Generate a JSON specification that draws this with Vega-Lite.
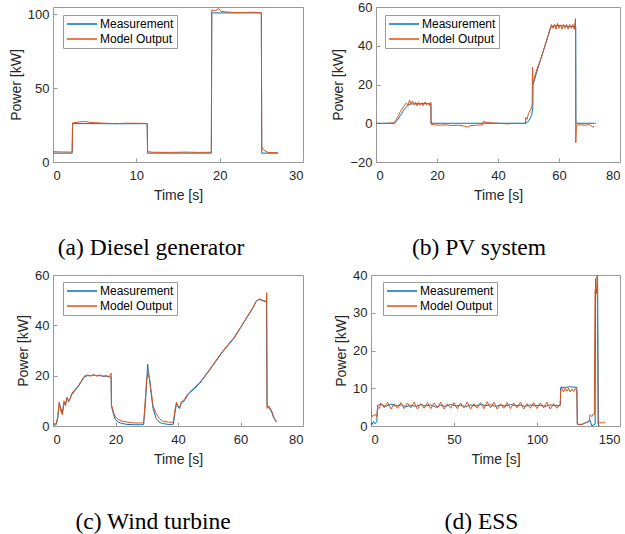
{
  "$schema": "https://vega.github.io/schema/vega-lite/v6.json",
  "padding": {"left": 8, "top": 0, "right": 0, "bottom": 0},
  "background": "white",
  "datasets": {
    "a": [
      {"s":"Measurement","t":0,"v":6},{"s":"Measurement","t":2.3,"v":6},{"s":"Measurement","t":2.35,"v":26},{"s":"Measurement","t":5,"v":26},{"s":"Measurement","t":8,"v":25.9},{"s":"Measurement","t":11.3,"v":26},{"s":"Measurement","t":11.35,"v":6},{"s":"Measurement","t":15,"v":6},{"s":"Measurement","t":19,"v":6},{"s":"Measurement","t":19.05,"v":101},{"s":"Measurement","t":22,"v":101},{"s":"Measurement","t":25,"v":101},{"s":"Measurement","t":25.05,"v":6},{"s":"Measurement","t":27,"v":6},
      {"s":"Model Output","t":0,"v":7},{"s":"Model Output","t":1,"v":6.8},{"s":"Model Output","t":2.3,"v":6.7},{"s":"Model Output","t":2.35,"v":26.5},{"s":"Model Output","t":3,"v":27},{"s":"Model Output","t":3.8,"v":27.5},{"s":"Model Output","t":4.5,"v":26.8},{"s":"Model Output","t":6,"v":26.3},{"s":"Model Output","t":7.5,"v":26},{"s":"Model Output","t":9,"v":26.3},{"s":"Model Output","t":10.5,"v":26.2},{"s":"Model Output","t":11.3,"v":26},{"s":"Model Output","t":11.35,"v":7},{"s":"Model Output","t":12,"v":6.6},{"s":"Model Output","t":14,"v":6.5},{"s":"Model Output","t":16,"v":6.7},{"s":"Model Output","t":17.5,"v":6.5},{"s":"Model Output","t":19,"v":6.6},{"s":"Model Output","t":19.05,"v":103},{"s":"Model Output","t":19.5,"v":102.5},{"s":"Model Output","t":19.9,"v":104},{"s":"Model Output","t":20.2,"v":102},{"s":"Model Output","t":21,"v":101.5},{"s":"Model Output","t":22.5,"v":101.2},{"s":"Model Output","t":24,"v":101.5},{"s":"Model Output","t":25,"v":101},{"s":"Model Output","t":25.05,"v":10},{"s":"Model Output","t":25.3,"v":8},{"s":"Model Output","t":25.8,"v":6.5},{"s":"Model Output","t":27,"v":6.2}
    ],
    "b": [
      {"s":"Measurement","t":0,"v":0},{"s":"Measurement","t":6,"v":0},{"s":"Measurement","t":7,"v":1.5},{"s":"Measurement","t":8,"v":4},{"s":"Measurement","t":9,"v":6.5},{"s":"Measurement","t":10,"v":8.5},{"s":"Measurement","t":11,"v":9.8},{"s":"Measurement","t":12,"v":10},{"s":"Measurement","t":14,"v":10},{"s":"Measurement","t":16,"v":10.2},{"s":"Measurement","t":18,"v":10},{"s":"Measurement","t":18.05,"v":0},{"s":"Measurement","t":25,"v":0},{"s":"Measurement","t":35,"v":0},{"s":"Measurement","t":45,"v":0},{"s":"Measurement","t":49,"v":0},{"s":"Measurement","t":50,"v":1},{"s":"Measurement","t":51,"v":4},{"s":"Measurement","t":51.4,"v":8},{"s":"Measurement","t":51.5,"v":20},{"s":"Measurement","t":53,"v":28},{"s":"Measurement","t":55,"v":38},{"s":"Measurement","t":57,"v":48},{"s":"Measurement","t":57.5,"v":50},{"s":"Measurement","t":60,"v":50.5},{"s":"Measurement","t":63,"v":50},{"s":"Measurement","t":65.5,"v":50},{"s":"Measurement","t":65.55,"v":0},{"s":"Measurement","t":72,"v":0},
      {"s":"Model Output","t":0,"v":0},{"s":"Model Output","t":2,"v":-0.2},{"s":"Model Output","t":4,"v":0},{"s":"Model Output","t":6,"v":0.2},{"s":"Model Output","t":7,"v":3},{"s":"Model Output","t":8,"v":6},{"s":"Model Output","t":9,"v":8.5},{"s":"Model Output","t":10,"v":10.5},{"s":"Model Output","t":10.5,"v":9},{"s":"Model Output","t":11,"v":12},{"s":"Model Output","t":11.5,"v":10},{"s":"Model Output","t":12,"v":11.5},{"s":"Model Output","t":12.5,"v":9.5},{"s":"Model Output","t":13,"v":11},{"s":"Model Output","t":13.5,"v":9},{"s":"Model Output","t":14,"v":10.8},{"s":"Model Output","t":14.5,"v":9.3},{"s":"Model Output","t":15,"v":10.5},{"s":"Model Output","t":15.5,"v":9},{"s":"Model Output","t":16,"v":11},{"s":"Model Output","t":16.5,"v":9.5},{"s":"Model Output","t":17,"v":10.5},{"s":"Model Output","t":17.5,"v":9.2},{"s":"Model Output","t":18,"v":10.8},{"s":"Model Output","t":18.05,"v":-0.5},{"s":"Model Output","t":19,"v":-0.8},{"s":"Model Output","t":21,"v":-1},{"s":"Model Output","t":23,"v":-0.8},{"s":"Model Output","t":25,"v":-1.2},{"s":"Model Output","t":27,"v":-1},{"s":"Model Output","t":29,"v":-1.5},{"s":"Model Output","t":30,"v":-2},{"s":"Model Output","t":31,"v":-1.2},{"s":"Model Output","t":33,"v":-1},{"s":"Model Output","t":35,"v":-0.8},{"s":"Model Output","t":35.1,"v":0.8},{"s":"Model Output","t":37,"v":0.3},{"s":"Model Output","t":40,"v":0},{"s":"Model Output","t":43,"v":-0.3},{"s":"Model Output","t":46,"v":0},{"s":"Model Output","t":48,"v":-0.2},{"s":"Model Output","t":49,"v":0},{"s":"Model Output","t":49.1,"v":3},{"s":"Model Output","t":49.5,"v":2},{"s":"Model Output","t":50,"v":5},{"s":"Model Output","t":51,"v":8},{"s":"Model Output","t":51.2,"v":10},{"s":"Model Output","t":51.3,"v":29},{"s":"Model Output","t":51.5,"v":20},{"s":"Model Output","t":52,"v":24},{"s":"Model Output","t":53,"v":29},{"s":"Model Output","t":54,"v":33},{"s":"Model Output","t":55,"v":38},{"s":"Model Output","t":56,"v":43},{"s":"Model Output","t":57,"v":48.5},{"s":"Model Output","t":57.5,"v":51},{"s":"Model Output","t":58,"v":49},{"s":"Model Output","t":58.5,"v":51},{"s":"Model Output","t":59,"v":48.5},{"s":"Model Output","t":59.5,"v":51.5},{"s":"Model Output","t":60,"v":49},{"s":"Model Output","t":60.5,"v":50.8},{"s":"Model Output","t":61,"v":48.5},{"s":"Model Output","t":61.5,"v":51},{"s":"Model Output","t":62,"v":49},{"s":"Model Output","t":62.5,"v":51},{"s":"Model Output","t":63,"v":48.5},{"s":"Model Output","t":63.5,"v":51},{"s":"Model Output","t":64,"v":49},{"s":"Model Output","t":64.5,"v":51},{"s":"Model Output","t":65,"v":48.5},{"s":"Model Output","t":65.4,"v":54},{"s":"Model Output","t":65.5,"v":-10},{"s":"Model Output","t":65.7,"v":-1},{"s":"Model Output","t":67,"v":-0.8},{"s":"Model Output","t":69,"v":-1},{"s":"Model Output","t":70,"v":-0.5},{"s":"Model Output","t":71,"v":-2},{"s":"Model Output","t":71.5,"v":-1.5}
    ],
    "c": [
      {"s":"Measurement","t":0,"v":0.3},{"s":"Measurement","t":1,"v":0.5},{"s":"Measurement","t":1.5,"v":3},{"s":"Measurement","t":2,"v":9},{"s":"Measurement","t":2.5,"v":7},{"s":"Measurement","t":3,"v":5},{"s":"Measurement","t":3.5,"v":9},{"s":"Measurement","t":4,"v":8.5},{"s":"Measurement","t":4.5,"v":11},{"s":"Measurement","t":5,"v":10},{"s":"Measurement","t":5.5,"v":11},{"s":"Measurement","t":6,"v":12.5},{"s":"Measurement","t":7,"v":14},{"s":"Measurement","t":8,"v":15.5},{"s":"Measurement","t":9,"v":17.5},{"s":"Measurement","t":10,"v":19.5},{"s":"Measurement","t":11,"v":20},{"s":"Measurement","t":12,"v":20},{"s":"Measurement","t":13,"v":20.2},{"s":"Measurement","t":14,"v":20},{"s":"Measurement","t":15,"v":20},{"s":"Measurement","t":16,"v":19.8},{"s":"Measurement","t":17,"v":19.8},{"s":"Measurement","t":18,"v":19.5},{"s":"Measurement","t":18.6,"v":19.5},{"s":"Measurement","t":18.7,"v":8},{"s":"Measurement","t":19.5,"v":4},{"s":"Measurement","t":20,"v":2.5},{"s":"Measurement","t":21,"v":1.5},{"s":"Measurement","t":22,"v":1},{"s":"Measurement","t":24,"v":0.6},{"s":"Measurement","t":26,"v":0.5},{"s":"Measurement","t":28,"v":0.5},{"s":"Measurement","t":29,"v":0.6},{"s":"Measurement","t":29.5,"v":8},{"s":"Measurement","t":30,"v":18},{"s":"Measurement","t":30.3,"v":24.5},{"s":"Measurement","t":30.6,"v":20},{"s":"Measurement","t":31,"v":18},{"s":"Measurement","t":31.5,"v":12},{"s":"Measurement","t":32,"v":7},{"s":"Measurement","t":33,"v":3},{"s":"Measurement","t":34,"v":1.5},{"s":"Measurement","t":35,"v":1},{"s":"Measurement","t":37,"v":0.6},{"s":"Measurement","t":38.5,"v":0.7},{"s":"Measurement","t":39,"v":5},{"s":"Measurement","t":39.5,"v":9},{"s":"Measurement","t":40,"v":8},{"s":"Measurement","t":40.5,"v":7},{"s":"Measurement","t":41,"v":9},{"s":"Measurement","t":42,"v":10},{"s":"Measurement","t":43,"v":12},{"s":"Measurement","t":43.5,"v":13},{"s":"Measurement","t":45,"v":14.5},{"s":"Measurement","t":47,"v":17},{"s":"Measurement","t":50,"v":22},{"s":"Measurement","t":52,"v":25.5},{"s":"Measurement","t":54,"v":29},{"s":"Measurement","t":56,"v":32},{"s":"Measurement","t":58,"v":35},{"s":"Measurement","t":60,"v":39},{"s":"Measurement","t":62,"v":43},{"s":"Measurement","t":64,"v":47},{"s":"Measurement","t":65,"v":49.5},{"s":"Measurement","t":66,"v":50.5},{"s":"Measurement","t":67,"v":50},{"s":"Measurement","t":68.3,"v":49.5},{"s":"Measurement","t":68.5,"v":8},{"s":"Measurement","t":69,"v":7.5},{"s":"Measurement","t":70,"v":5.5},{"s":"Measurement","t":70.5,"v":3.5},{"s":"Measurement","t":71,"v":2.5},{"s":"Measurement","t":71.5,"v":1.5},
      {"s":"Model Output","t":0,"v":1},{"s":"Model Output","t":1,"v":0.8},{"s":"Model Output","t":1.5,"v":3.5},{"s":"Model Output","t":2,"v":9.5},{"s":"Model Output","t":2.5,"v":6},{"s":"Model Output","t":3,"v":4.5},{"s":"Model Output","t":3.5,"v":10},{"s":"Model Output","t":4,"v":8},{"s":"Model Output","t":4.5,"v":11.5},{"s":"Model Output","t":5,"v":9.5},{"s":"Model Output","t":5.5,"v":11},{"s":"Model Output","t":6,"v":13},{"s":"Model Output","t":7,"v":14.5},{"s":"Model Output","t":8,"v":15.8},{"s":"Model Output","t":9,"v":17.8},{"s":"Model Output","t":10,"v":19.8},{"s":"Model Output","t":11,"v":20.3},{"s":"Model Output","t":12,"v":19.8},{"s":"Model Output","t":13,"v":20.5},{"s":"Model Output","t":14,"v":19.8},{"s":"Model Output","t":15,"v":20.3},{"s":"Model Output","t":16,"v":19.7},{"s":"Model Output","t":17,"v":20},{"s":"Model Output","t":18,"v":19.6},{"s":"Model Output","t":18.6,"v":21},{"s":"Model Output","t":18.7,"v":8.5},{"s":"Model Output","t":19.5,"v":5},{"s":"Model Output","t":20,"v":3.5},{"s":"Model Output","t":21,"v":2.5},{"s":"Model Output","t":22,"v":2},{"s":"Model Output","t":24,"v":1.5},{"s":"Model Output","t":26,"v":1.2},{"s":"Model Output","t":28,"v":1.2},{"s":"Model Output","t":29,"v":1.3},{"s":"Model Output","t":29.5,"v":10},{"s":"Model Output","t":30,"v":19},{"s":"Model Output","t":30.5,"v":21.5},{"s":"Model Output","t":30.8,"v":20},{"s":"Model Output","t":31,"v":17},{"s":"Model Output","t":31.5,"v":13},{"s":"Model Output","t":32,"v":8},{"s":"Model Output","t":33,"v":5},{"s":"Model Output","t":34,"v":3},{"s":"Model Output","t":35,"v":2},{"s":"Model Output","t":37,"v":1.5},{"s":"Model Output","t":38.5,"v":1.5},{"s":"Model Output","t":39,"v":6},{"s":"Model Output","t":39.5,"v":9.5},{"s":"Model Output","t":40,"v":7.5},{"s":"Model Output","t":40.5,"v":7},{"s":"Model Output","t":41,"v":9.5},{"s":"Model Output","t":42,"v":10.5},{"s":"Model Output","t":43,"v":12.5},{"s":"Model Output","t":43.5,"v":13.2},{"s":"Model Output","t":45,"v":15},{"s":"Model Output","t":47,"v":17.3},{"s":"Model Output","t":50,"v":22.3},{"s":"Model Output","t":52,"v":25.8},{"s":"Model Output","t":54,"v":29.3},{"s":"Model Output","t":56,"v":32.3},{"s":"Model Output","t":58,"v":35.3},{"s":"Model Output","t":60,"v":39.2},{"s":"Model Output","t":62,"v":43.2},{"s":"Model Output","t":64,"v":47.2},{"s":"Model Output","t":65,"v":49.6},{"s":"Model Output","t":66,"v":50.3},{"s":"Model Output","t":67,"v":49.8},{"s":"Model Output","t":68.3,"v":49.3},{"s":"Model Output","t":68.4,"v":53},{"s":"Model Output","t":68.5,"v":7},{"s":"Model Output","t":69,"v":8},{"s":"Model Output","t":70,"v":6},{"s":"Model Output","t":70.5,"v":4},{"s":"Model Output","t":71,"v":2.8},{"s":"Model Output","t":71.5,"v":1.8}
    ],
    "d": [
      {"s":"Measurement","t":0,"v":1},{"s":"Measurement","t":0.5,"v":0.3},{"s":"Measurement","t":1.5,"v":1.2},{"s":"Measurement","t":2.5,"v":0.6},{"s":"Measurement","t":3.5,"v":1.2},{"s":"Measurement","t":4,"v":5.5},{"s":"Measurement","t":6,"v":5.7},{"s":"Measurement","t":9,"v":5.2},{"s":"Measurement","t":12,"v":5.8},{"s":"Measurement","t":15,"v":5.3},{"s":"Measurement","t":18,"v":5.6},{"s":"Measurement","t":21,"v":5.1},{"s":"Measurement","t":24,"v":5.5},{"s":"Measurement","t":27,"v":5.2},{"s":"Measurement","t":30,"v":5.7},{"s":"Measurement","t":33,"v":5.3},{"s":"Measurement","t":36,"v":5.6},{"s":"Measurement","t":39,"v":5.0},{"s":"Measurement","t":42,"v":5.5},{"s":"Measurement","t":45,"v":5.2},{"s":"Measurement","t":48,"v":5.7},{"s":"Measurement","t":51,"v":5.3},{"s":"Measurement","t":54,"v":5.5},{"s":"Measurement","t":57,"v":5.1},{"s":"Measurement","t":60,"v":5.6},{"s":"Measurement","t":63,"v":5.3},{"s":"Measurement","t":66,"v":5.7},{"s":"Measurement","t":69,"v":5.4},{"s":"Measurement","t":72,"v":5.6},{"s":"Measurement","t":75,"v":5.2},{"s":"Measurement","t":78,"v":5.5},{"s":"Measurement","t":81,"v":5.3},{"s":"Measurement","t":84,"v":5.7},{"s":"Measurement","t":87,"v":5.4},{"s":"Measurement","t":90,"v":5.5},{"s":"Measurement","t":93,"v":5.2},{"s":"Measurement","t":96,"v":5.6},{"s":"Measurement","t":99,"v":5.4},{"s":"Measurement","t":102,"v":5.5},{"s":"Measurement","t":105,"v":5.2},{"s":"Measurement","t":108,"v":5.6},{"s":"Measurement","t":111,"v":5.4},{"s":"Measurement","t":114,"v":5.4},{"s":"Measurement","t":114.3,"v":10.3},{"s":"Measurement","t":117,"v":10.2},{"s":"Measurement","t":120,"v":10.4},{"s":"Measurement","t":124,"v":10.2},{"s":"Measurement","t":124.3,"v":0.5},{"s":"Measurement","t":127,"v":0.4},{"s":"Measurement","t":130,"v":1},{"s":"Measurement","t":132,"v":1.5},{"s":"Measurement","t":133,"v":0},{"s":"Measurement","t":134,"v":0.3},{"s":"Measurement","t":135,"v":0.5},{"s":"Measurement","t":135.3,"v":39},{"s":"Measurement","t":136.5,"v":39.5},{"s":"Measurement","t":137,"v":0},{"s":"Measurement","t":138,"v":0},
      {"s":"Model Output","t":0,"v":4},{"s":"Model Output","t":0.5,"v":2.5},{"s":"Model Output","t":1.5,"v":2.8},{"s":"Model Output","t":3,"v":3},{"s":"Model Output","t":3.5,"v":2.5},{"s":"Model Output","t":4,"v":5},{"s":"Model Output","t":5,"v":4.6},{"s":"Model Output","t":6,"v":6.1},{"s":"Model Output","t":8,"v":4.8},{"s":"Model Output","t":10,"v":6.3},{"s":"Model Output","t":12,"v":4.5},{"s":"Model Output","t":14,"v":5.9},{"s":"Model Output","t":16,"v":4.7},{"s":"Model Output","t":18,"v":6.2},{"s":"Model Output","t":20,"v":4.6},{"s":"Model Output","t":22,"v":6.1},{"s":"Model Output","t":24,"v":4.8},{"s":"Model Output","t":26,"v":6.3},{"s":"Model Output","t":28,"v":4.5},{"s":"Model Output","t":30,"v":5.9},{"s":"Model Output","t":32,"v":4.7},{"s":"Model Output","t":34,"v":6.2},{"s":"Model Output","t":36,"v":4.6},{"s":"Model Output","t":38,"v":6.1},{"s":"Model Output","t":40,"v":4.8},{"s":"Model Output","t":42,"v":6.3},{"s":"Model Output","t":44,"v":4.5},{"s":"Model Output","t":46,"v":5.9},{"s":"Model Output","t":48,"v":4.7},{"s":"Model Output","t":50,"v":6.2},{"s":"Model Output","t":52,"v":4.6},{"s":"Model Output","t":54,"v":6.1},{"s":"Model Output","t":56,"v":4.8},{"s":"Model Output","t":58,"v":6.3},{"s":"Model Output","t":60,"v":4.5},{"s":"Model Output","t":62,"v":5.9},{"s":"Model Output","t":64,"v":4.7},{"s":"Model Output","t":66,"v":6.2},{"s":"Model Output","t":68,"v":4.6},{"s":"Model Output","t":70,"v":6.4},{"s":"Model Output","t":72,"v":4.8},{"s":"Model Output","t":74,"v":6.3},{"s":"Model Output","t":76,"v":4.5},{"s":"Model Output","t":78,"v":5.9},{"s":"Model Output","t":80,"v":4.7},{"s":"Model Output","t":82,"v":6.2},{"s":"Model Output","t":84,"v":4.6},{"s":"Model Output","t":86,"v":6.1},{"s":"Model Output","t":88,"v":4.8},{"s":"Model Output","t":90,"v":6.3},{"s":"Model Output","t":92,"v":4.5},{"s":"Model Output","t":94,"v":5.9},{"s":"Model Output","t":96,"v":4.7},{"s":"Model Output","t":98,"v":6.2},{"s":"Model Output","t":100,"v":4.6},{"s":"Model Output","t":102,"v":6.1},{"s":"Model Output","t":104,"v":4.8},{"s":"Model Output","t":106,"v":6.3},{"s":"Model Output","t":108,"v":4.5},{"s":"Model Output","t":110,"v":5.9},{"s":"Model Output","t":112,"v":4.7},{"s":"Model Output","t":114,"v":5.8},{"s":"Model Output","t":114.3,"v":9.5},{"s":"Model Output","t":115,"v":10},{"s":"Model Output","t":116,"v":9},{"s":"Model Output","t":117,"v":10},{"s":"Model Output","t":118,"v":9.2},{"s":"Model Output","t":119,"v":10},{"s":"Model Output","t":120,"v":9},{"s":"Model Output","t":121,"v":9.8},{"s":"Model Output","t":122,"v":9.1},{"s":"Model Output","t":123,"v":9.9},{"s":"Model Output","t":124,"v":9.3},{"s":"Model Output","t":124.3,"v":0.5},{"s":"Model Output","t":126,"v":0.3},{"s":"Model Output","t":128,"v":0.6},{"s":"Model Output","t":130,"v":1},{"s":"Model Output","t":131.5,"v":1.2},{"s":"Model Output","t":132,"v":3},{"s":"Model Output","t":133,"v":2.5},{"s":"Model Output","t":134,"v":3.2},{"s":"Model Output","t":134.5,"v":3},{"s":"Model Output","t":135,"v":36},{"s":"Model Output","t":135.5,"v":37},{"s":"Model Output","t":136,"v":35},{"s":"Model Output","t":136.3,"v":40.5},{"s":"Model Output","t":136.8,"v":0.5},{"s":"Model Output","t":138,"v":1},{"s":"Model Output","t":139,"v":0.7},{"s":"Model Output","t":140,"v":1},{"s":"Model Output","t":141,"v":0.8}
    ]
  },
  "bounds": "flush",
  "spacing": 268,
  "resolve": {"scale": {"color": "independent"}, "legend": {"color": "independent"}},
  "vconcat": [
    {
      "bounds": "flush",
      "spacing": 73,
      "resolve": {"scale": {"color": "independent"}, "legend": {"color": "independent"}},
      "hconcat": [
        {
          "width": 250, "height": 155,
          "data": {"name": "a"},
          "title": {"text": "(a) Diesel generator", "dx": -27, "offset": 34},
          "mark": {"type": "line", "clip": true, "strokeWidth": 1},
          "encoding": {
            "x": {"field": "t", "type": "quantitative", "scale": {"domain": [0, 30], "nice": false}, "axis": {"values": [0, 10, 20, 30], "title": "Time [s]"}},
            "y": {"field": "v", "type": "quantitative", "scale": {"domain": [0, 105], "nice": false, "zero": false}, "axis": {"values": [0, 50, 100], "title": "Power [kW]"}},
            "color": {"field": "s", "type": "nominal", "scale": {"domain": ["Measurement", "Model Output"], "range": ["#0072BD", "#D95319"]}, "legend": {"title": null, "orient": "none", "legendX": 10, "legendY": 8}}
          }
        },
        {
          "width": 244, "height": 155,
          "data": {"name": "b"},
          "title": {"text": "(b) PV system", "dx": -19, "offset": 34},
          "mark": {"type": "line", "clip": true, "strokeWidth": 1},
          "encoding": {
            "x": {"field": "t", "type": "quantitative", "scale": {"domain": [0, 80], "nice": false}, "axis": {"values": [0, 20, 40, 60, 80], "title": "Time [s]"}},
            "y": {"field": "v", "type": "quantitative", "scale": {"domain": [-20, 60], "nice": false, "zero": false}, "axis": {"values": [-20, 0, 20, 40, 60], "title": "Power [kW]"}},
            "color": {"field": "s", "type": "nominal", "scale": {"domain": ["Measurement", "Model Output"], "range": ["#0072BD", "#D95319"]}, "legend": {"title": null, "orient": "none", "legendX": 9, "legendY": 8}}
          }
        }
      ]
    },
    {
      "bounds": "flush",
      "spacing": 68,
      "resolve": {"scale": {"color": "independent"}, "legend": {"color": "independent"}},
      "hconcat": [
        {
          "width": 250, "height": 151,
          "data": {"name": "c"},
          "title": {"text": "(c) Wind turbine", "dx": -25, "offset": 44},
          "mark": {"type": "line", "clip": true, "strokeWidth": 1},
          "encoding": {
            "x": {"field": "t", "type": "quantitative", "scale": {"domain": [0, 80], "nice": false}, "axis": {"values": [0, 20, 40, 60, 80], "title": "Time [s]"}},
            "y": {"field": "v", "type": "quantitative", "scale": {"domain": [0, 60], "nice": false, "zero": false}, "axis": {"values": [0, 20, 40, 60], "title": "Power [kW]"}},
            "color": {"field": "s", "type": "nominal", "scale": {"domain": ["Measurement", "Model Output"], "range": ["#0072BD", "#D95319"]}, "legend": {"title": null, "orient": "none", "legendX": 10, "legendY": 7}}
          }
        },
        {
          "width": 249, "height": 151,
          "data": {"name": "d"},
          "title": {"text": "(d) ESS", "dx": -14, "offset": 44},
          "mark": {"type": "line", "clip": true, "strokeWidth": 1},
          "encoding": {
            "x": {"field": "t", "type": "quantitative", "scale": {"domain": [0, 150], "nice": false}, "axis": {"values": [0, 50, 100, 150], "title": "Time [s]"}},
            "y": {"field": "v", "type": "quantitative", "scale": {"domain": [0, 40], "nice": false, "zero": false}, "axis": {"values": [0, 10, 20, 30, 40], "title": "Power [kW]"}},
            "color": {"field": "s", "type": "nominal", "scale": {"domain": ["Measurement", "Model Output"], "range": ["#0072BD", "#D95319"]}, "legend": {"title": null, "orient": "none", "legendX": 12, "legendY": 7}}
          }
        }
      ]
    }
  ],
  "config": {
    "view": {"stroke": "#9a9a9a", "strokeWidth": 1},
    "axis": {
      "grid": false,
      "labelFont": "Liberation Sans", "labelFontSize": 13, "labelColor": "#262626",
      "titleFont": "Liberation Sans", "titleFontSize": 14, "titleFontWeight": "normal", "titleColor": "#262626",
      "domainColor": "#9a9a9a", "tickColor": "#9a9a9a", "tickSize": -4, "labelPadding": 8
    },
    "axisX": {"titlePadding": 6, "labelPadding": 11},
    "axisY": {"titlePadding": 4},
    "title": {"orient": "bottom", "anchor": "middle", "font": "Liberation Serif", "fontSize": 23.5, "fontWeight": "normal", "color": "#000000"},
    "legend": {
      "labelFont": "Liberation Sans", "labelFontSize": 12, "labelColor": "#000000",
      "symbolType": "M-1,0H5", "symbolSize": 100, "symbolStrokeWidth": 1.5, "labelOffset": 22,
      "fillColor": "white", "strokeColor": "#9a9a9a", "padding": 3, "rowPadding": 3
    }
  }
}
